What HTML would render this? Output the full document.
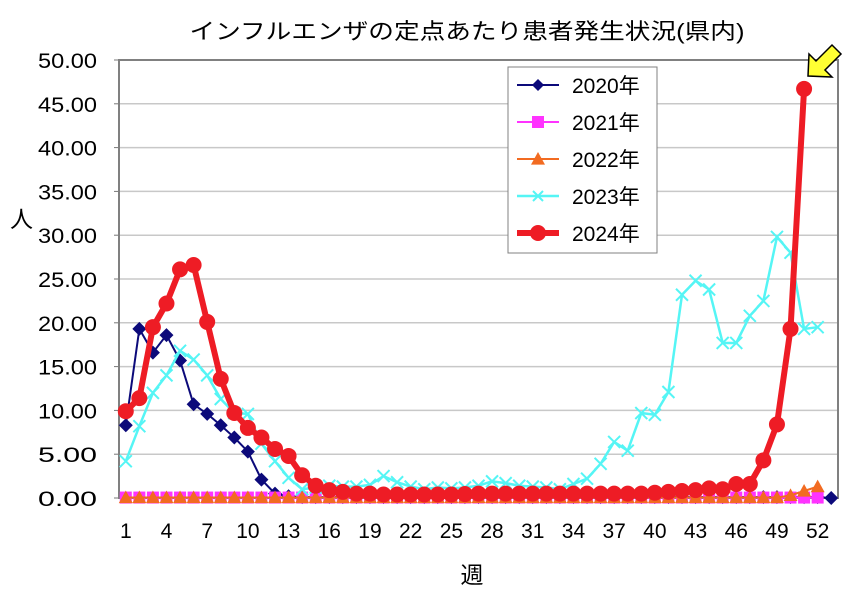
<!DOCTYPE html>
<html><head><meta charset="utf-8"><style>
html,body{margin:0;padding:0;background:#fff;}
svg text{font-family:"Liberation Sans","Noto Sans CJK JP",sans-serif;fill:#000;}
</style></head><body>
<svg id="s" width="857" height="593" xmlns="http://www.w3.org/2000/svg">
<rect width="857" height="593" fill="#fff"/>
<text x="467" y="39" font-size="22" text-anchor="middle" textLength="555" lengthAdjust="spacingAndGlyphs">インフルエンザの定点あたり患者発生状況(県内)</text>
<text x="10" y="227" font-size="23">人</text>
<text x="472" y="583" font-size="23" text-anchor="middle">週</text>
<g id="g"></g>
</svg>
<script>
const L=119,R=838,T=60,B=498,sp=(R-L)/53,k=(B-T)/50;
const X=i=>L+(i-0.5)*sp, Y=v=>B-v*k;
let h='';
for(let v=0;v<=50;v+=5){const y=Y(v);
 if(v>0&&v<50)h+=`<line x1="${L}" y1="${y}" x2="${R}" y2="${y}" stroke="#c8c8c8" stroke-width="1.5"/>`;
 h+=`<line x1="${L-5}" y1="${y}" x2="${L}" y2="${y}" stroke="#777"/>`;
 h+=`<text x="${L-22}" y="${y+8}" font-size="21" text-anchor="end" textLength="59" lengthAdjust="spacingAndGlyphs">${v.toFixed(2)}</text>`;}
h+=`<rect x="${L}" y="${T}" width="${R-L}" height="${B-T}" fill="none" stroke="#808080" stroke-width="2"/>`;
for(let i=1;i<=52;i+=3)h+=`<text x="${X(i)}" y="538" font-size="21" text-anchor="middle">${i}</text>`;
const d20=[8.3,19.3,16.6,18.6,15.7,10.7,9.6,8.3,6.9,5.3,2.1,0.5,0.2];while(d20.length<52)d20.push(0.1);d20.push(0);
const d21=Array(52).fill(0.05);
const d22=Array(52).fill(0.05);d22[49]=0.3;d22[50]=0.8;d22[51]=1.3;
const d23=[4.2,8.2,12,14,16.8,15.8,14,11.3,9.7,9.6,6.2,4.2,2.3,1.0,1.2,1.4,1.3,1.3,1.5,2.5,1.8,1.3,1.0,1.2,1.1,1.2,1.4,1.9,1.7,1.4,1.3,1.2,1.0,1.6,2.2,3.9,6.4,5.4,9.7,9.5,12.1,23.2,24.8,23.8,17.7,17.7,20.8,22.5,29.8,28,19.3,19.5];
const d24=[9.9,11.4,19.5,22.2,26.1,26.6,20.1,13.6,9.7,8.0,6.9,5.6,4.8,2.6,1.4,0.9,0.7,0.5,0.5,0.4,0.4,0.4,0.4,0.4,0.4,0.45,0.5,0.5,0.5,0.5,0.5,0.5,0.5,0.5,0.5,0.5,0.5,0.5,0.5,0.6,0.7,0.8,0.9,1.1,1.0,1.6,1.6,4.3,8.4,19.3,46.7];
const pl=(d,c,w)=>`<polyline fill="none" stroke="${c}" stroke-width="${w}" stroke-linejoin="round" points="${d.map((v,i)=>X(i+1)+','+Y(v)).join(' ')}"/>`;
const dia=(x,y,c,r)=>`<polygon points="${x},${y-r} ${x+r},${y} ${x},${y+r} ${x-r},${y}" fill="${c}"/>`;
const sq=(x,y,c,r)=>`<rect x="${x-r}" y="${y-r}" width="${2*r}" height="${2*r}" fill="${c}"/>`;
const tri=(x,y,c,r)=>`<polygon points="${x},${y-r} ${x+r},${y+r*0.8} ${x-r},${y+r*0.8}" fill="${c}"/>`;
const cr=(x,y,c,r)=>`<path d="M${x-r} ${y-r}L${x+r} ${y+r}M${x-r} ${y+r}L${x+r} ${y-r}" stroke="${c}" stroke-width="2"/>`;
const ci=(x,y,c,r)=>`<circle cx="${x}" cy="${y}" r="${r}" fill="${c}"/>`;
function ser(d,c,w,m,r){let s=pl(d,c,w);d.forEach((v,i)=>s+=m(X(i+1),Y(v),c,r));return s;}
h+=ser(d20,'#0c0a7a',2,dia,7);
h+=ser(d21,'#ff33ff',2,sq,6);
h+=ser(d22,'#f26b21',2,tri,7);
h+=ser(d23,'#55f5f5',2.5,cr,6);
h+=ser(d24,'#ee1c25',6,ci,8);
h+=`<rect x="508" y="67" width="149" height="186" fill="#fff" stroke="#808080"/>`;
const lg=[['2020年','#0c0a7a',2,dia,6],['2021年','#ff33ff',2,sq,6],['2022年','#f26b21',2,tri,7],['2023年','#55f5f5',2.5,cr,5],['2024年','#ee1c25',6,ci,8]];
lg.forEach((e,i)=>{const y=85+i*37;h+=`<line x1="517" y1="${y}" x2="559" y2="${y}" stroke="${e[1]}" stroke-width="${e[2]}"/>`+e[3](538,y,e[1],e[4])+`<text x="572" y="${y+8}" font-size="21">${e[0]}</text>`;});
h+=`<polygon points="808,76 809,54 816,61 832,45 841,54 825,70 832,77" fill="#ffff33" stroke="#000" stroke-width="1.5"/>`;
document.getElementById('g').innerHTML=h;
</script>
</body></html>
